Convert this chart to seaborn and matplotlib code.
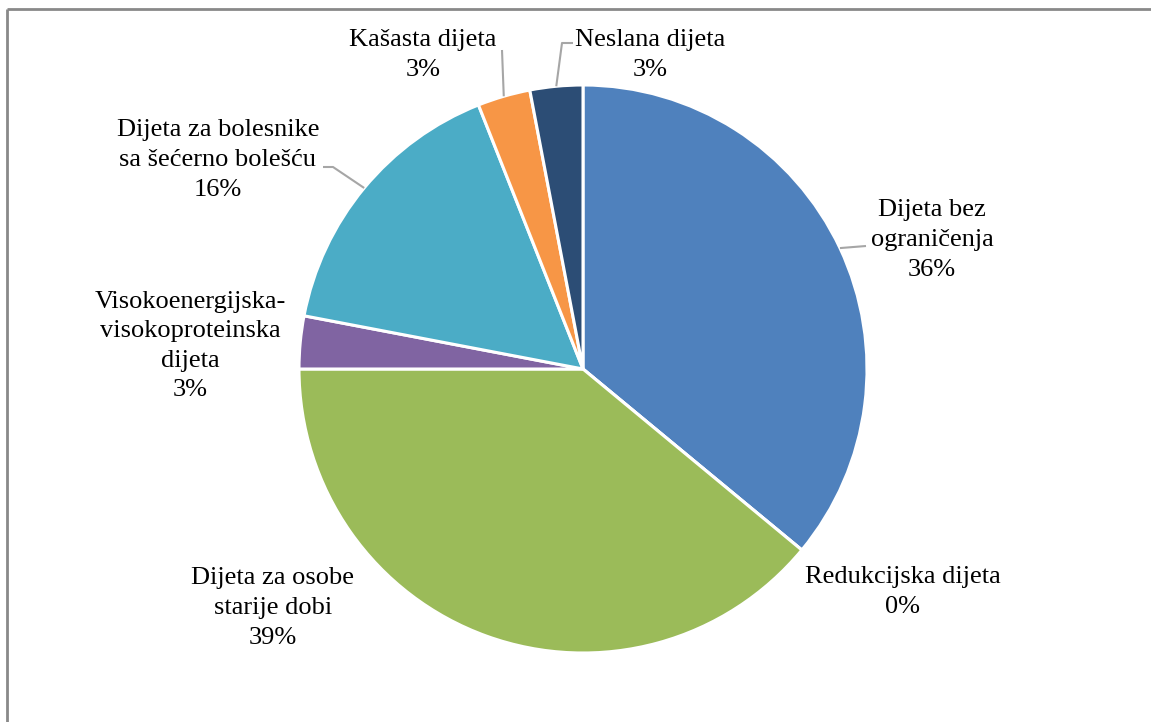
import matplotlib
matplotlib.use("Agg")
import matplotlib.pyplot as plt
import seaborn as sns
import numpy as np

categories = ["Dijeta bez ograničenja", "Redukcijska dijeta", "Dijeta za osobe starije dobi",
              "Visokoenergijska-visokoproteinska dijeta", "Dijeta za bolesnike sa šećerno bolešću",
              "Kašasta dijeta", "Neslana dijeta"]
values = [36, 0, 39, 3, 16, 3, 3]
label_lines = ["Dijeta bez\nograničenja", "Redukcijska dijeta", "Dijeta za osobe\nstarije dobi",
               "Visokoenergijska-\nvisokoproteinska\ndijeta", "Dijeta za bolesnike\nsa šećerno bolešću",
               "Kašasta dijeta", "Neslana dijeta"]
colors = ["#4F81BD", "#C0504D", "#9BBB59", "#8064A2", "#4BACC6", "#F79646", "#2C4D75"]

sns.set_theme(style="white")
plt.rcParams['font.family'] = ['Liberation Serif', 'DejaVu Serif']

W, H = 1151, 722
fig = plt.figure(figsize=(W / 100, H / 100), dpi=100)
ax = fig.add_axes([0, 0, 1, 1])
ax.set_xlim(0, W)
ax.set_ylim(0, H)
ax.set_aspect('equal')
ax.axis('off')

def P(x, y):
    return (x, H - y)

cx, cy, R = 583, 369, 284
wedges, _ = ax.pie(values, colors=colors, startangle=90, counterclock=False,
                   center=P(cx, cy), radius=R,
                   wedgeprops=dict(edgecolor='white', linewidth=2.2))
ax.set_xlim(0, W)
ax.set_ylim(0, H)

# label layout: text center (screen px), leader elbow points (screen px) or None
layout = [
    ((932, 240), [(866, 246)]),
    ((903, 592), None),
    ((273, 608), None),
    ((190, 346), None),
    ((218, 160), [(333, 167), (323, 167)]),
    ((423, 55), [(502, 50)]),
    ((650, 55), [(562, 43), (573, 43)]),
]

pct = [f"{v:.0f}%" for v in values]
for w, txt, p, (pos, leader) in zip(wedges, label_lines, pct, layout):
    ax.text(*P(*pos), f"{txt}\n{p}", ha='center', va='center', fontsize=19,
            linespacing=1.45, color='#000000')
    if leader:
        mid = np.deg2rad((w.theta1 + w.theta2) / 2)
        ex, ey = w.center[0] + R * np.cos(mid), w.center[1] + R * np.sin(mid)
        xs = [ex] + [q[0] for q in leader]
        ys = [ey] + [H - q[1] for q in leader]
        ax.plot(xs, ys, color='#A6A6A6', lw=1.5, solid_capstyle='butt')

# frame
ax.plot([7.5, 7.5], [0, H - 9], color='#898989', lw=2, solid_capstyle='butt')
ax.plot([7.5, W], [H - 9, H - 9], color='#898989', lw=2, solid_capstyle='butt')

fig.savefig("out.png", dpi=100)
